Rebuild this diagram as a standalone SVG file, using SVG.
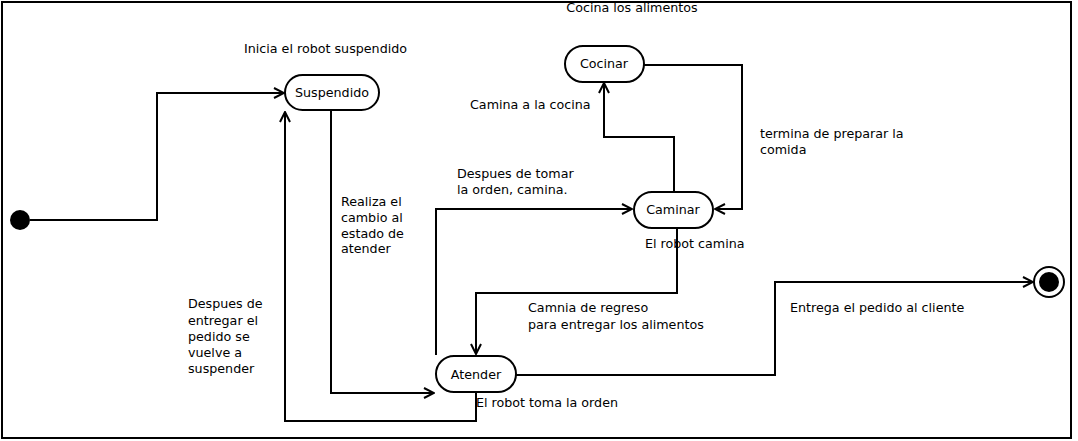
<svg xmlns="http://www.w3.org/2000/svg" width="1078" height="441" viewBox="0 0 1078 441">
<style>
text{font-family:"DejaVu Sans",sans-serif;font-size:12.7px;fill:#000}
.c{text-anchor:middle}
.st{fill:#fff;stroke:#000;stroke-width:2}
.ln{fill:none;stroke:#000;stroke-width:2}
</style>
<defs>
<marker id="a" viewBox="0 0 12 12" refX="11" refY="6" markerWidth="12" markerHeight="12" markerUnits="userSpaceOnUse" orient="auto">
<path d="M1,1 L11,6 L1,11" fill="none" stroke="#000" stroke-width="2"/>
</marker>
</defs>
<rect x="2" y="2" width="1069" height="436" fill="#fff" stroke="#000" stroke-width="2"/>
<text class="c" x="632" y="12">Cocina los alimentos</text>
<g id="connectors">
<path class="ln" d="M30,220 H157 V93 H284" marker-end="url(#a)"/>
<path class="ln" d="M331,110 V393 H434" marker-end="url(#a)"/>
<path class="ln" d="M476,392 V421 H285 V112" marker-end="url(#a)"/>
<path class="ln" d="M436,355 V209 H632" marker-end="url(#a)"/>
<path class="ln" d="M674,191 V137 H604 V83" marker-end="url(#a)"/>
<path class="ln" d="M644,65 H742 V209 H715" marker-end="url(#a)"/>
<path class="ln" d="M677,228 V293 H476 V354" marker-end="url(#a)"/>
<path class="ln" d="M516,375 H775 V282 H1033" marker-end="url(#a)"/>
</g>
<g id="labels">
<text x="244" y="53">Inicia el robot suspendido</text>
<text x="341" y="206">Realiza el</text>
<text x="341" y="222">cambio al</text>
<text x="341" y="238">estado de</text>
<text x="341" y="253">atender</text>
<text x="470" y="109">Camina a la cocina</text>
<text x="760" y="138">termina de preparar la</text>
<text x="760" y="154">comida</text>
<text x="457" y="178">Despues de tomar</text>
<text x="457" y="194">la orden, camina.</text>
<text x="645" y="248">El robot camina</text>
<text x="528" y="312">Camnia de regreso</text>
<text x="528" y="329">para entregar los alimentos</text>
<text x="790" y="312">Entrega el pedido al cliente</text>
<text x="188" y="308">Despues de</text>
<text x="188" y="325">entregar el</text>
<text x="188" y="341">pedido se</text>
<text x="188" y="357">vuelve a</text>
<text x="188" y="373">suspender</text>
<text x="476" y="407">El robot toma la orden</text>
</g>
<g id="initial"><circle cx="20" cy="220" r="10" fill="#000"/></g>
<g id="final"><circle cx="1049" cy="282" r="15" fill="#fff" stroke="#000" stroke-width="2"/><circle cx="1049" cy="282" r="10" fill="#000"/></g>
<g id="suspendido"><rect class="st" x="285" y="75" width="94" height="35" rx="17.5"/><text class="c" x="332" y="97">Suspendido</text></g>
<g id="cocinar"><rect class="st" x="565" y="46" width="79" height="36" rx="18"/><text class="c" x="604" y="68">Cocinar</text></g>
<g id="caminar"><rect class="st" x="634" y="192" width="79" height="36" rx="18"/><text class="c" x="673" y="214">Caminar</text></g>
<g id="atender"><rect class="st" x="436" y="356" width="80" height="36" rx="18"/><text class="c" x="476" y="379">Atender</text></g>
</svg>
